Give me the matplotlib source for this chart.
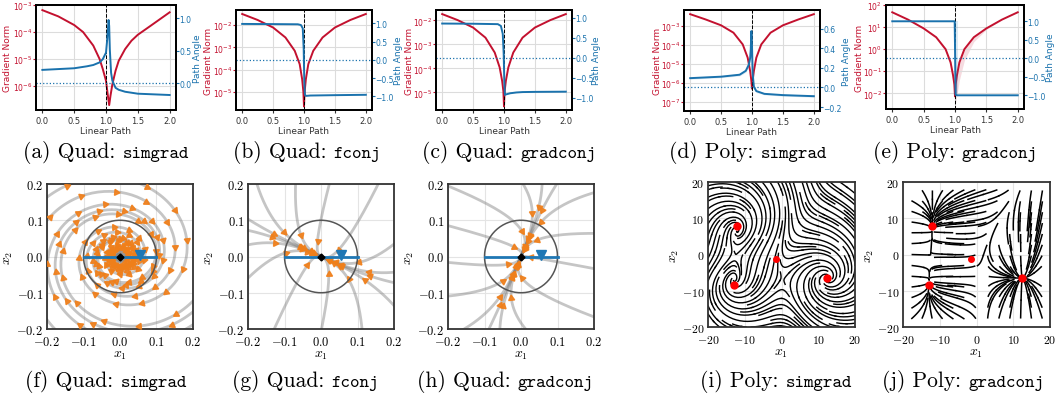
import numpy as np
import matplotlib
matplotlib.use("Agg")
import matplotlib.pyplot as plt

plt.rcParams["mathtext.fontset"] = "cm"
plt.rcParams["font.family"] = "DejaVu Sans"

W, H = 1056, 402
RED = "#c3112f"
BLUE = "#1a72ad"
ORANGE = "#f07f1a"

# -------------------------------
# Top row data (x along the linear path, log10 gradient norm, path angle)
# -------------------------------
a_x = [0.0, 0.25, 0.5, 0.64, 0.8, 0.9, 0.95, 1.0, 1.03, 1.05, 1.07, 1.1, 1.15, 1.2, 1.3, 1.4, 1.5, 1.7, 2.0]
a_red = [-3.19, -3.42, -3.74, -4.0, -4.5, -5.0, -5.37, -5.8, -6.36, -6.7, -6.36, -5.93, -5.43, -5.06, -4.63, -4.32, -4.1, -3.77, -3.27]
a_bx = [0.0, 0.5, 0.6, 0.7, 0.8, 0.9, 0.95, 1.0, 1.02, 1.04, 1.05, 1.06, 1.08, 1.1, 1.15, 1.2, 1.3, 1.5, 2.0]
a_blue = [0.205, 0.23, 0.245, 0.26, 0.28, 0.32, 0.37, 0.47, 0.68, 0.97, 0.88, 0.52, 0.16, 0.04, -0.07, -0.10, -0.13, -0.16, -0.18]

b_x = [0.0, 0.25, 0.5, 0.7, 0.85, 0.93, 0.97, 0.99, 1.0, 1.01, 1.03, 1.07, 1.15, 1.3, 1.5, 1.75, 2.0]
b_red = [-1.49, -1.76, -2.10, -2.55, -3.15, -3.75, -4.43, -5.0, -5.66, -5.0, -4.43, -3.75, -3.15, -2.55, -2.10, -1.76, -1.49]
b_bx = [0.0, 0.5, 0.9, 0.95, 0.98, 0.995, 1.005, 1.015, 1.03, 1.1, 1.5, 2.0]
b_blue = [0.98, 0.975, 0.97, 0.95, 0.86, 0.3, -0.6, -0.95, -0.985, -0.975, -0.965, -0.955]

c_x = [0.0, 0.25, 0.5, 0.7, 0.85, 0.93, 0.97, 0.99, 1.0, 1.01, 1.03, 1.07, 1.15, 1.3, 1.5, 1.75, 2.0]
c_red = [-1.74, -1.99, -2.30, -2.72, -3.34, -3.96, -4.52, -4.95, -5.58, -4.95, -4.52, -3.96, -3.34, -2.72, -2.30, -1.99, -1.74]
c_bx = [0.0, 0.5, 0.9, 0.95, 0.98, 0.995, 1.005, 1.015, 1.03, 1.1, 1.2, 1.3, 1.5, 2.0]
c_blue = [0.86, 0.855, 0.845, 0.80, 0.6, 0.1, -0.6, -0.93, -0.92, -0.89, -0.87, -0.86, -0.855, -0.85]

d_x = [0.0, 0.25, 0.5, 0.7, 0.85, 0.93, 0.97, 0.99, 1.0, 1.01, 1.03, 1.07, 1.15, 1.3, 1.5, 1.75, 2.0]
d_red = [-2.37, -2.65, -2.96, -3.35, -3.97, -4.67, -5.38, -5.9, -6.31, -5.9, -5.38, -4.67, -3.97, -3.35, -2.96, -2.65, -2.37]
d_bx = [0.0, 0.5, 0.8, 0.9, 0.95, 0.97, 0.98, 0.99, 1.0, 1.01, 1.03, 1.07, 1.2, 1.5, 2.0]
d_blue = [0.095, 0.11, 0.13, 0.17, 0.235, 0.3, 0.39, 0.575, 0.42, 0.15, 0.007, -0.037, -0.065, -0.078, -0.089]
d_blue_sd = [0.01, 0.01, 0.012, 0.015, 0.02, 0.03, 0.04, 0.05, 0.05, 0.04, 0.02, 0.015, 0.01, 0.01, 0.01]

e_x = [0.0, 0.25, 0.5, 0.7, 0.85, 0.93, 0.97, 0.99, 1.0, 1.01, 1.03, 1.07, 1.15, 1.3, 1.5, 1.75, 2.0]
e_red = [1.67, 1.34, 0.94, 0.54, 0.0, -0.6, -1.2, -1.6, -2.14, -1.6, -1.2, -0.6, 0.0, 0.54, 0.94, 1.34, 1.67]
e_red_band = [0.0, 0.0, 0.02, 0.05, 0.1, 0.2, 0.35, 0.5, 0.4, 0.8, 0.9, 0.8, 0.5, 0.2, 0.05, 0.0, 0.0]
e_bx = [0.0, 0.995, 1.01, 1.03, 2.0]
e_blue = [1.0, 1.0, -0.98, -1.0, -1.0]
e_bband_x = [0.985, 1.05]
e_bband_lo = [-1.0, -1.0]
e_bband_hi = [1.0, 1.0]

# y-label positions (axes fraction): left, right
label_pos = [(-0.168, 1.118), (-0.168, 1.165), (-0.165, 1.15), (-0.165, 1.165), (-0.163, 1.16)]

# -------------------------------
# Bottom row data (quadratic games: linear dynamics + starting points)
# -------------------------------
f_A = [[-0.60, 4.3], [-3.7, -0.65]]
f_start_x = [0.32, -0.16, -0.20, 0.24, 0.05]
f_start_y = [0.10, 0.30, -0.26, -0.24, 0.33]

g_eigvec = [[1.0, 0.35], [-0.45, 1.0]]
g_eigval = [-1.0, -2.6]
g_start_ang = [0, 25, 55, 80, 100, 125, 150, 165, 185, 210, 240, 265, 290, 320, 345]

h_eigvec = [[0.42, 1.0], [1.0, -0.2]]
h_eigval = [-1.0, -3.0]
h_start_ang = [10, 35, 60, 85, 110, 140, 160, 180, 200, 225, 245, 265, 295, 325, 350]

# polynomial game: stable points and the central point
poly_x = [-12.0, -13.0, 12.5]
poly_y = [8.0, -8.5, -6.5]
poly_mid_x = [-1.5]
poly_mid_y = [-1.2]
i_rot = [1.4, 1.4, 1.2]
j_contr = [[1.0, 0.45], [1.0, 0.45], [0.6, 1.0]]
j_seed = [-18, -15, -12, -9, -6, -3, 0, 3, 6, 9, 12, 15, 18]

captions_top = [("(a)", "Quad", "simgrad", 106), ("(b)", "Quad", "fconj", 307), ("(c)", "Quad", "gradconj", 509),
                ("(d)", "Poly", "simgrad", 748), ("(e)", "Poly", "gradconj", 955)]
captions_bot = [("(f)", "Quad", "simgrad", 106), ("(g)", "Quad", "fconj", 305), ("(h)", "Quad", "gradconj", 505),
                ("(i)", "Poly", "simgrad", 776), ("(j)", "Poly", "gradconj", 963)]

fig = plt.figure(figsize=(W / 100, H / 100), dpi=100)


def rect(l, r, t, b):
    return [l / W, 1 - b / H, (r - l) / W, (b - t) / H]


def top_panel(box, x, red, bx, blue, lylim, rylim, rticks, lpos):
    ax = fig.add_axes(rect(*box))
    ax.plot(x, 10 ** np.array(red), color=RED, lw=1.4, zorder=3)
    ax.set_yscale("log")
    ax.set_ylim(10 ** lylim[0], 10 ** lylim[1])
    ax.set_xlim(-0.1, 2.1)
    ax.set_xticks([0.0, 0.5, 1.0, 1.5, 2.0])
    ax.yaxis.set_minor_locator(matplotlib.ticker.NullLocator())
    ax.grid(True, color="#dcdcdc", lw=0.8)
    ax.axvline(1.0, color="k", ls="--", lw=0.7, zorder=4)
    ax.tick_params(axis="y", colors=RED, labelsize=5.5, length=2, pad=0.8)
    ax.tick_params(axis="x", labelsize=6, length=2.5, pad=1.5, colors="#333333")
    ax.set_xlabel("Linear Path", fontsize=6.5, labelpad=1, color="#333333")
    ax.set_ylabel("Gradient Norm", fontsize=6.5, color=RED)
    ax.yaxis.set_label_coords(lpos[0], 0.5)
    ax2 = ax.twinx()
    ax2.plot(bx, blue, color=BLUE, lw=1.4, zorder=3)
    ax2.axhline(0.0, color=BLUE, ls=":", lw=0.9)
    ax2.set_ylim(*rylim)
    ax2.set_yticks(rticks)
    ax2.tick_params(axis="y", colors=BLUE, labelsize=5.5, length=2, pad=0.5)
    ax2.set_ylabel("Path Angle", fontsize=6.5, color=BLUE)
    ax2.yaxis.set_label_coords(lpos[1], 0.5)
    for a in (ax, ax2):
        for s in a.spines.values():
            s.set_linewidth(1.3)
            s.set_color("k")
    return ax, ax2


top_panel((36, 176, 6, 111), a_x, a_red, a_bx, a_blue, (-6.88, -3.0), (-0.41, 1.2), [0.0, 0.5, 1.0], label_pos[0])
top_panel((236, 372, 11, 111), b_x, b_red, b_bx, b_blue, (-5.82, -1.31), (-1.37, 1.36),
          [-1.0, -0.5, 0.0, 0.5, 1.0], label_pos[1])
top_panel((436, 572, 11, 111), c_x, c_red, c_bx, c_blue, (-5.73, -1.57), (-1.31, 1.2),
          [-1.0, -0.5, 0.0, 0.5, 1.0], label_pos[2])
ax_d, ax_d2 = top_panel((684, 820, 11, 112), d_x, d_red, d_bx, d_blue, (-7.49, -2.15), (-0.24, 0.79),
                        [-0.2, 0.0, 0.2, 0.4, 0.6], label_pos[3])
ax_d2.fill_between(d_bx, np.array(d_blue) - np.array(d_blue_sd), np.array(d_blue) + np.array(d_blue_sd),
                   color=BLUE, alpha=0.15, lw=0)
ax_e, ax_e2 = top_panel((886, 1024, 6, 110), e_x, e_red, e_bx, e_blue, (-2.71, 2.0), (-1.37, 1.44),
                        [-1.0, -0.5, 0.0, 0.5, 1.0], label_pos[4])
ax_e.fill_between(e_x, 10 ** (np.array(e_red) - np.array(e_red_band)), 10 ** np.array(e_red),
                  color=RED, alpha=0.15, lw=0)
ax_e2.fill_between(e_bband_x, e_bband_lo, e_bband_hi, color=BLUE, alpha=0.15, lw=0)


# -------------------------------
# Bottom row: quadratic games
# -------------------------------
def style_box(ax, ticks, fmt, size):
    labels = [r"$%s$" % (fmt % t) for t in ticks]
    ax.set_xticks(ticks, labels=labels)
    ax.set_yticks(ticks, labels=labels)
    ax.tick_params(axis="x", labelsize=size, length=0, pad=4.5)
    ax.tick_params(axis="y", labelsize=size, length=0, pad=2.5)
    ax.grid(True, color="#e4e4e4", lw=0.8)
    ax.set_xlabel(r"$x_1$", fontsize=10, labelpad=-1)
    ax.set_ylabel(r"$x_2$", fontsize=10, labelpad=1)
    for s in ax.spines.values():
        s.set_linewidth(1.3)
        s.set_color("#333333")


def quad_axes(box):
    ax = fig.add_axes(rect(*box))
    ax.set_xlim(-0.2, 0.2)
    ax.set_ylim(-0.2, 0.2)
    style_box(ax, [-0.2, -0.1, 0.0, 0.1, 0.2], "%.1f", 9)
    return ax


def run_traj(ax, A, sx, sy, T, dt, mark_every, min_r):
    A = np.array(A)
    M = A * dt
    step = np.eye(2) + M + M @ M / 2 + M @ M @ M / 6
    n = int(T / dt)
    for x0, y0 in zip(sx, sy):
        pts = np.zeros((n, 2))
        pts[0] = [x0, y0]
        for k in range(1, n):
            pts[k] = step @ pts[k - 1]
        ax.plot(pts[:, 0], pts[:, 1], color="gray", alpha=0.45, lw=2, zorder=2)
        for k in range(mark_every, n, mark_every):
            p = pts[k]
            if np.hypot(*p) < min_r or abs(p[0]) > 0.2 or abs(p[1]) > 0.2:
                continue
            d = A @ p
            ang = np.degrees(np.arctan2(d[1], d[0])) - 90
            ax.plot(p[0], p[1], marker=(3, 0, ang), color=ORANGE, ms=5, alpha=0.9, zorder=3, lw=0)


def decorate_quad(ax):
    th = np.linspace(0, 2 * np.pi, 200)
    ax.plot(0.1 * np.cos(th), 0.1 * np.sin(th), color="#555555", lw=1.1, zorder=4)
    ax.plot([-0.1, 0.1], [0.0, 0.0], color="#1f77b4", lw=2, zorder=5)
    ax.plot([0.055], [0.003], marker="v", color="#1f77b4", ms=7, zorder=6)
    ax.plot([0.0], [0.0], marker="D", color="k", ms=3.5, zorder=7)


def node_matrix(vec, val):
    V = np.array(vec)
    return V @ np.diag(val) @ np.linalg.inv(V)


def ring(angles, r=0.34):
    a = np.radians(angles)
    return r * np.cos(a), r * np.sin(a)


ax_f = quad_axes((47, 193, 185, 330))
run_traj(ax_f, f_A, f_start_x, f_start_y, 7.0, 0.01, 12, 0.02)
decorate_quad(ax_f)

ax_g = quad_axes((248, 394, 185, 330))
run_traj(ax_g, node_matrix(g_eigvec, g_eigval), *ring(g_start_ang), 6.0, 0.005, 170, 0.02)
decorate_quad(ax_g)

ax_h = quad_axes((448, 594, 185, 330))
run_traj(ax_h, node_matrix(h_eigvec, h_eigval), *ring(h_start_ang), 6.0, 0.005, 170, 0.02)
decorate_quad(ax_h)


# -------------------------------
# Bottom row: polynomial game streamlines
# -------------------------------
def poly_axes(box):
    ax = fig.add_axes(rect(*box))
    ax.set_xlim(-20, 20)
    ax.set_ylim(-20, 20)
    style_box(ax, [-20, -10, 0, 10, 20], "%d", 8.5)
    return ax


gx = np.linspace(-20, 20, 120)
GX, GY = np.meshgrid(gx, gx)


def blend_field(cx_list, cy_list, cxx, cyy, rot, s=7.0):
    logs = np.stack([-((GX - cx) ** 2 + (GY - cy) ** 2) / (2 * s * s) for cx, cy in zip(cx_list, cy_list)])
    logs -= logs.max(axis=0)
    w = np.exp(logs)
    w /= w.sum(axis=0)
    U = np.zeros_like(GX)
    V = np.zeros_like(GX)
    for i, (cx, cy) in enumerate(zip(cx_list, cy_list)):
        dx, dy = GX - cx, GY - cy
        U += w[i] * (-cxx[i] * dx + rot[i] * dy)
        V += w[i] * (-cyy[i] * dy - rot[i] * dx)
    return U, V


ax_i = poly_axes((708, 855, 183, 328))
U, V = blend_field(poly_x, poly_y, [0.5, 0.5, 0.5], [0.5, 0.5, 0.5], i_rot)
ax_i.streamplot(gx, gx, U, V, density=1.3, color="k", linewidth=1.0, arrowstyle="-")
ax_i.plot(poly_x, poly_y, "o", color="red", ms=5, zorder=5)
ax_i.plot(poly_mid_x, poly_mid_y, "o", color="red", ms=4, zorder=5)

ax_j = poly_axes((903, 1050, 183, 328))
U, V = blend_field(poly_x, poly_y, [c[0] for c in j_contr], [c[1] for c in j_contr], [0, 0, 0])
SX, SY = np.meshgrid(j_seed, j_seed)
ax_j.streamplot(gx, gx, U, V, density=4.0, color="k", linewidth=1.1, arrowstyle="-",
                start_points=np.column_stack([SX.ravel(), SY.ravel()]), integration_direction="forward",
                maxlength=0.3)
ax_j.plot(poly_x, poly_y, "o", color="red", ms=5, zorder=5)
ax_j.plot(poly_mid_x, poly_mid_y, "o", color="red", ms=4, zorder=5)

# -------------------------------
# Captions: serif text + monospace method name, centred
# -------------------------------
renderer = fig.canvas.get_renderer()


def caption(tag, word, mono, xc, yc):
    t1 = fig.text(0, 1 - yc / H, "%s %s:" % (tag, word), fontfamily="cmr10", fontsize=15.5, va="baseline")
    t2 = fig.text(0, 1 - yc / H, mono, fontfamily="cmtt10", fontsize=13, va="baseline")
    w1 = t1.get_window_extent(renderer).width
    w2 = t2.get_window_extent(renderer).width
    gap = 7
    x0 = xc - (w1 + gap + w2) / 2
    t1.set_x(x0 / W)
    t2.set_x((x0 + w1 + gap) / W)


for tag, word, m, xc in captions_top:
    caption(tag, word, m, xc, 158)
for tag, word, m, xc in captions_bot:
    caption(tag, word, m, xc, 387)

fig.savefig("out.png", dpi=100, facecolor="white")
